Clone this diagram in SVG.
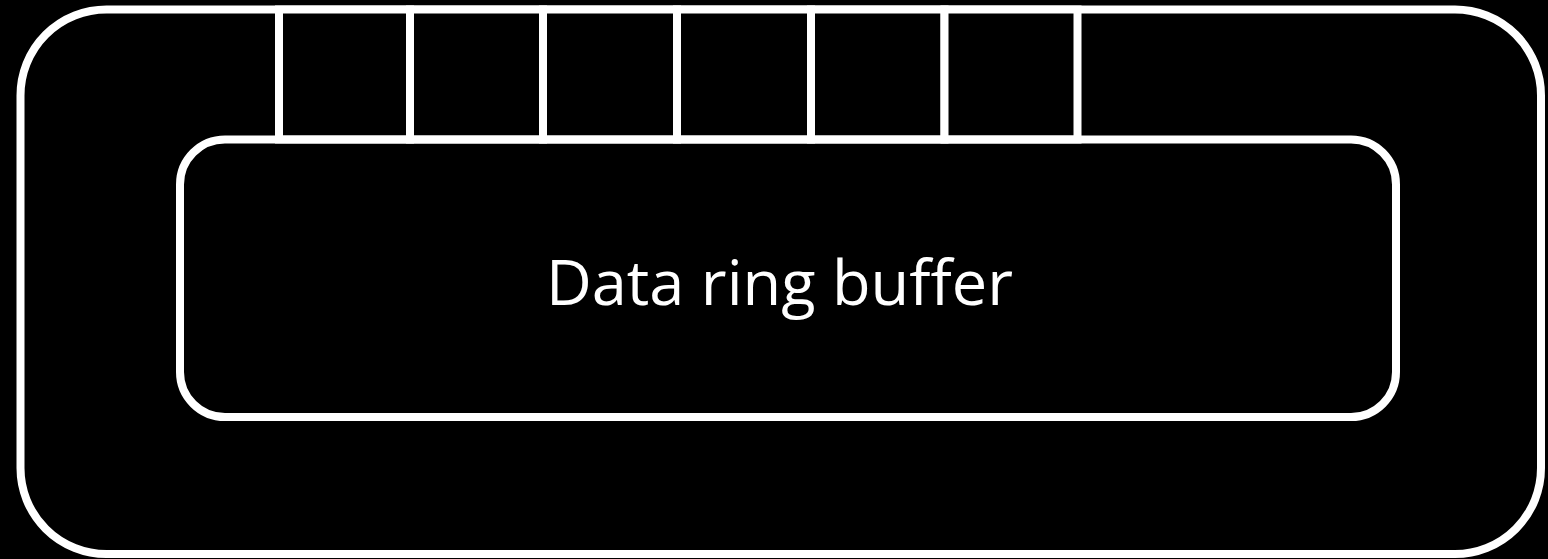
<svg xmlns="http://www.w3.org/2000/svg" width="1548" height="559" viewBox="0 0 1548 559">
  <style>
    .box { fill: none; stroke: #ffffff; stroke-width: 8; }
    .cell { fill: #000000; stroke: #ffffff; stroke-width: 8; }
    .label { font-family: "Open Sans", "Noto Sans", "Liberation Sans", sans-serif; font-size: 63px; fill: #ffffff; }
  </style>
  <rect x="0" y="0" width="1548" height="559" fill="#000000"/>
  <g id="outer">
    <rect class="box" x="20.5" y="9.5" width="1520.5" height="544.5" rx="86" ry="86"/>
  </g>
  <g id="cells">
    <rect class="cell" x="279" y="9.5" width="131" height="130"/>
    <rect class="cell" x="410" y="9.5" width="133" height="130"/>
    <rect class="cell" x="543" y="9.5" width="134" height="130"/>
    <rect class="cell" x="677" y="9.5" width="134" height="130"/>
    <rect class="cell" x="811" y="9.5" width="133.5" height="130"/>
    <rect class="cell" x="944.5" y="9.5" width="133" height="130"/>
  </g>
  <g id="buffer">
    <rect class="box" x="180" y="139.5" width="1216" height="277.5" rx="45" ry="45" fill="#000000"/>
    <text class="label" x="779.5" y="305" text-anchor="middle" textLength="467" lengthAdjust="spacingAndGlyphs">Data ring buffer</text>
  </g>
  <g id="connectors"></g>
</svg>
